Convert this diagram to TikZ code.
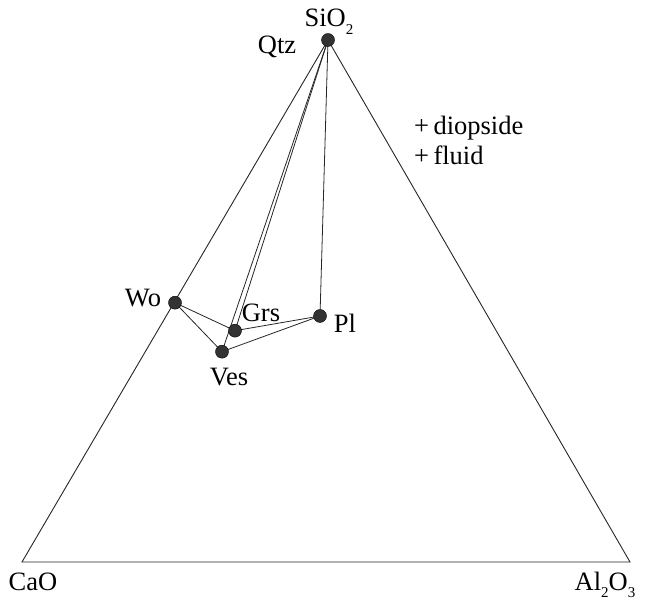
\documentclass[tikz,border=0pt]{standalone}
\usepackage{fontspec}
\setmainfont{Liberation Serif}
\newcommand{\lowsub}[1]{\raisebox{-0.28em}{\fontsize{15}{15}\selectfont #1}}
\begin{document}
\begin{tikzpicture}[x=1pt,y=1pt,
  edge/.style={draw=black!85, line width=0.9pt},
  tie/.style={draw=black!85, line width=0.8pt},
  phase/.style={circle, fill=black!80, draw=black, line width=0.4pt, inner sep=0pt, minimum size=13pt},
  lbl/.style={font=\fontsize{26.5}{28}\selectfont, inner sep=0pt}]
\useasboundingbox (0,0) rectangle (650,602);
% corners
\coordinate (S) at (328,562);
\coordinate (C) at (22,40);
\coordinate (A) at (630,40);
% phases
\coordinate (qtz) at (328,562);
\coordinate (wo) at (175,299.3);
\coordinate (grs) at (235,271.3);
\coordinate (ves) at (222,250.3);
\coordinate (pl) at (320,286);
\draw[edge] (S) -- (C) -- (A) -- cycle;
\draw[tie] (qtz) -- (grs);
\draw[tie] (qtz) -- (ves);
\draw[tie] (qtz) -- (pl);
\draw[tie] (wo) -- (grs);
\draw[tie] (wo) -- (ves);
\draw[tie] (grs) -- (pl);
\draw[tie] (ves) -- (pl);
\node[phase] (nqtz) at (qtz) {};
\node[phase] (nwo) at (wo) {};
\node[phase] (ngrs) at (grs) {};
\node[phase] (nves) at (ves) {};
\node[phase] (npl) at (pl) {};
% labels
\node[lbl, anchor=base] (tsio) at (329,575) {SiO\lowsub{2}};
\node[lbl] (tqtz) at (277,555) {Qtz};
\node[lbl] (two) at (143,304) {Wo};
\node[lbl] (tgrs) at (261,289) {Grs};
\node[lbl] (tpl) at (345,279) {Pl};
\node[lbl] (tves) at (229,225) {Ves};
\node[lbl, anchor=west] (tdio) at (414,474) {+\,diopside};
\node[lbl, anchor=west] (tflu) at (414,447) {+\,fluid};
\node[lbl, anchor=base] (tcao) at (33,12) {CaO};
\node[lbl, anchor=base] (tal) at (605,12) {Al\lowsub{2}O\lowsub{3}};
\end{tikzpicture}
\end{document}
